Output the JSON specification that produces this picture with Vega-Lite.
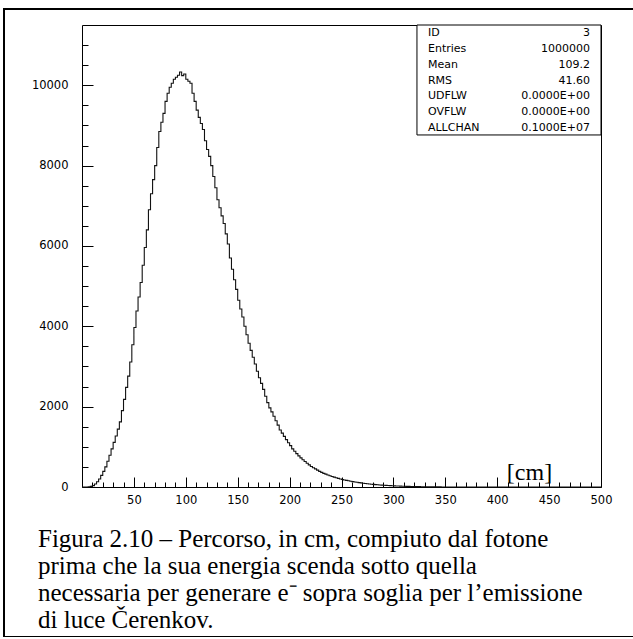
{
  "$schema": "https://vega.github.io/schema/vega-lite/v6.json",
  "width": 632,
  "height": 628,
  "autosize": {"type": "none"},
  "padding": {"left": 4, "top": 9, "right": 0, "bottom": 0},
  "background": "white",
  "config": {
    "view": {"stroke": "black", "strokeWidth": 2},
    "axis": {
      "labelFont": "DejaVu Sans",
      "labelFontSize": 11.5,
      "labelColor": "black",
      "domainColor": "black",
      "domainWidth": 1,
      "tickColor": "black",
      "tickWidth": 1,
      "grid": false,
      "title": null
    }
  },
  "title": {
    "text": [
      "Figura 2.10 – Percorso, in cm, compiuto dal fotone",
      "prima che la sua energia scenda sotto quella",
      "necessaria per generare e⁻ sopra soglia per l’emissione",
      "di luce Čerenkov."
    ],
    "orient": "bottom",
    "anchor": "start",
    "frame": "group",
    "offset": -110,
    "dx": 34,
    "font": "Liberation Serif",
    "fontSize": 25,
    "fontWeight": "normal",
    "lineHeight": 27,
    "baseline": "top",
    "color": "black"
  },
  "datasets": {
    "hist": [
      {"x": 0, "n": 0}, {"x": 2, "n": 0}, {"x": 4, "n": 0}, {"x": 6, "n": 5}, {"x": 8, "n": 15},
      {"x": 10, "n": 35}, {"x": 12, "n": 75}, {"x": 14, "n": 130}, {"x": 16, "n": 200}, {"x": 18, "n": 290},
      {"x": 20, "n": 390}, {"x": 22, "n": 500}, {"x": 24, "n": 640}, {"x": 26, "n": 790}, {"x": 28, "n": 950},
      {"x": 30, "n": 1110}, {"x": 32, "n": 1270}, {"x": 34, "n": 1440}, {"x": 36, "n": 1620}, {"x": 38, "n": 1900},
      {"x": 40, "n": 2180}, {"x": 42, "n": 2480}, {"x": 44, "n": 2760}, {"x": 46, "n": 3110}, {"x": 48, "n": 3540},
      {"x": 50, "n": 3970}, {"x": 52, "n": 4380}, {"x": 54, "n": 4730}, {"x": 56, "n": 5090}, {"x": 58, "n": 5520},
      {"x": 60, "n": 5960}, {"x": 62, "n": 6400}, {"x": 64, "n": 6900}, {"x": 66, "n": 7300}, {"x": 68, "n": 7650},
      {"x": 70, "n": 8000}, {"x": 72, "n": 8450}, {"x": 74, "n": 8850}, {"x": 76, "n": 9080}, {"x": 78, "n": 9300},
      {"x": 80, "n": 9600}, {"x": 82, "n": 9800}, {"x": 84, "n": 9950}, {"x": 86, "n": 10050}, {"x": 88, "n": 10150},
      {"x": 90, "n": 10200}, {"x": 92, "n": 10250}, {"x": 94, "n": 10330}, {"x": 96, "n": 10240}, {"x": 98, "n": 10280},
      {"x": 100, "n": 10150}, {"x": 102, "n": 10100}, {"x": 104, "n": 10050}, {"x": 106, "n": 9800}, {"x": 108, "n": 9600},
      {"x": 110, "n": 9380}, {"x": 112, "n": 9200}, {"x": 114, "n": 9050}, {"x": 116, "n": 8900}, {"x": 118, "n": 8620},
      {"x": 120, "n": 8400}, {"x": 122, "n": 8230}, {"x": 124, "n": 8000}, {"x": 126, "n": 7730}, {"x": 128, "n": 7450},
      {"x": 130, "n": 7150}, {"x": 132, "n": 6950}, {"x": 134, "n": 6750}, {"x": 136, "n": 6560}, {"x": 138, "n": 6300},
      {"x": 140, "n": 6050}, {"x": 142, "n": 5700}, {"x": 144, "n": 5420}, {"x": 146, "n": 5160}, {"x": 148, "n": 4920},
      {"x": 150, "n": 4650}, {"x": 152, "n": 4430}, {"x": 154, "n": 4230}, {"x": 156, "n": 4000}, {"x": 158, "n": 3790},
      {"x": 160, "n": 3580}, {"x": 162, "n": 3400}, {"x": 164, "n": 3230}, {"x": 166, "n": 3060}, {"x": 168, "n": 2880},
      {"x": 170, "n": 2720}, {"x": 172, "n": 2580}, {"x": 174, "n": 2430}, {"x": 176, "n": 2260}, {"x": 178, "n": 2100},
      {"x": 180, "n": 1970}, {"x": 182, "n": 1870}, {"x": 184, "n": 1760}, {"x": 186, "n": 1650}, {"x": 188, "n": 1540},
      {"x": 190, "n": 1420}, {"x": 192, "n": 1340}, {"x": 194, "n": 1260}, {"x": 196, "n": 1180}, {"x": 198, "n": 1100},
      {"x": 200, "n": 1030}, {"x": 202, "n": 950}, {"x": 204, "n": 890}, {"x": 206, "n": 830}, {"x": 208, "n": 775},
      {"x": 210, "n": 725}, {"x": 212, "n": 680}, {"x": 214, "n": 635}, {"x": 216, "n": 590}, {"x": 218, "n": 550},
      {"x": 220, "n": 510}, {"x": 222, "n": 480}, {"x": 224, "n": 450}, {"x": 226, "n": 420}, {"x": 228, "n": 390},
      {"x": 230, "n": 365}, {"x": 232, "n": 340}, {"x": 234, "n": 320}, {"x": 236, "n": 300}, {"x": 238, "n": 280},
      {"x": 240, "n": 262}, {"x": 242, "n": 245}, {"x": 244, "n": 230}, {"x": 246, "n": 215}, {"x": 248, "n": 200},
      {"x": 250, "n": 188}, {"x": 252, "n": 175}, {"x": 254, "n": 165}, {"x": 256, "n": 155}, {"x": 258, "n": 145},
      {"x": 260, "n": 135}, {"x": 262, "n": 126}, {"x": 264, "n": 118}, {"x": 266, "n": 110}, {"x": 268, "n": 102},
      {"x": 270, "n": 95}, {"x": 272, "n": 88}, {"x": 274, "n": 82}, {"x": 276, "n": 76}, {"x": 278, "n": 70},
      {"x": 280, "n": 65}, {"x": 282, "n": 60}, {"x": 284, "n": 55}, {"x": 286, "n": 51}, {"x": 288, "n": 47},
      {"x": 290, "n": 43}, {"x": 292, "n": 40}, {"x": 294, "n": 37}, {"x": 296, "n": 34}, {"x": 298, "n": 31},
      {"x": 300, "n": 28}, {"x": 302, "n": 26}, {"x": 304, "n": 24}, {"x": 306, "n": 22}, {"x": 308, "n": 20},
      {"x": 310, "n": 18}, {"x": 312, "n": 16}, {"x": 314, "n": 15}, {"x": 316, "n": 13}, {"x": 318, "n": 12},
      {"x": 320, "n": 11}, {"x": 322, "n": 10}, {"x": 324, "n": 9}, {"x": 326, "n": 8}, {"x": 328, "n": 7},
      {"x": 330, "n": 6}, {"x": 332, "n": 5}, {"x": 334, "n": 4}, {"x": 336, "n": 4}, {"x": 338, "n": 3},
      {"x": 340, "n": 3}, {"x": 342, "n": 2}, {"x": 344, "n": 2}, {"x": 346, "n": 1}, {"x": 348, "n": 1},
      {"x": 350, "n": 0}, {"x": 500, "n": 0}
    ],
    "stats": [
      {"stat": "ID", "value": "3"},
      {"stat": "Entries", "value": "1000000"},
      {"stat": "Mean", "value": "109.2"},
      {"stat": "RMS", "value": "41.60"},
      {"stat": "UDFLW", "value": "0.0000E+00"},
      {"stat": "OVFLW", "value": "0.0000E+00"},
      {"stat": "ALLCHAN", "value": "0.1000E+07"}
    ]
  },
  "layer": [
    {
      "data": {"name": "hist"},
      "layer": [
        {
          "mark": {"type": "line", "interpolate": "step-after", "color": "#111111", "strokeWidth": 1.1},
          "encoding": {
            "x": {
              "field": "x", "type": "quantitative",
              "scale": {"domain": [0, 500], "range": [78, 597], "nice": false, "zero": false},
              "axis": {
                "orient": "bottom", "offset": -150,
                "values": [50, 100, 150, 200, 250, 300, 350, 400, 450, 500],
                "tickSize": -10, "labelPadding": 17, "labelFlush": false, "labelOverlap": false,
                "title": "[cm]", "titleFont": "Liberation Serif", "titleFontSize": 24,
                "titleFontWeight": "normal", "titleColor": "black",
                "titleX": 525, "titleY": -8, "titleAlign": "center", "titleBaseline": "alphabetic"
              }
            },
            "y": {
              "field": "n", "type": "quantitative",
              "scale": {"domain": [0, 11500], "range": [478, 16], "nice": false, "zero": true},
              "axis": {
                "orient": "left", "offset": -78,
                "values": [0, 2000, 4000, 6000, 8000, 10000],
                "tickSize": -11, "labelPadding": 25, "labelFlush": false, "labelOverlap": false,
                "format": "d"
              }
            }
          }
        },
        {
          "mark": {"type": "line", "opacity": 0},
          "encoding": {
            "x": {
              "field": "x", "type": "quantitative",
              "scale": {"domain": [0, 500], "range": [78, 597], "nice": false, "zero": false},
              "axis": {
                "orient": "bottom", "offset": -150,
                "values": [10, 20, 30, 40, 60, 70, 80, 90, 110, 120, 130, 140, 160, 170, 180, 190, 210, 220, 230, 240, 260, 270, 280, 290, 310, 320, 330, 340, 360, 370, 380, 390, 410, 420, 430, 440, 460, 470, 480, 490],
                "tickSize": -5, "labels": false, "domain": false
              }
            },
            "y": {
              "field": "n", "type": "quantitative",
              "scale": {"domain": [0, 11500], "range": [478, 16], "nice": false, "zero": true},
              "axis": {
                "orient": "left", "offset": -78,
                "values": [500, 1000, 1500, 2500, 3000, 3500, 4500, 5000, 5500, 6500, 7000, 7500, 8500, 9000, 9500, 10500, 11000],
                "tickSize": -6, "labels": false, "domain": false
              }
            }
          }
        },
        {
          "mark": {"type": "line", "opacity": 0},
          "encoding": {
            "x": {
              "field": "x", "type": "quantitative",
              "scale": {"domain": [0, 500], "range": [78, 597], "nice": false, "zero": false},
              "axis": {"orient": "top", "offset": -16, "ticks": false, "labels": false, "domain": true}
            },
            "y": {
              "field": "n", "type": "quantitative",
              "scale": {"domain": [0, 11500], "range": [478, 16], "nice": false, "zero": true},
              "axis": {"orient": "right", "offset": -35, "ticks": false, "labels": false, "domain": true}
            }
          }
        },
        {
          "data": {"values": [{}]},
          "mark": {"type": "rect", "fill": "white", "stroke": "black", "strokeWidth": 1},
          "encoding": {
            "x": {"datum": 322.7, "type": "quantitative", "axis": null},
            "x2": {"datum": 500},
            "y": {"datum": 11500, "type": "quantitative", "axis": null},
            "y2": {"datum": 8763}
          }
        }
      ],
      "resolve": {"axis": {"x": "independent", "y": "independent"}}
    },
    {
      "data": {"name": "stats"},
      "mark": {"type": "text", "align": "left", "baseline": "middle", "font": "DejaVu Sans", "fontSize": 11, "color": "black"},
      "encoding": {
        "x": {"datum": 333.3, "type": "quantitative", "axis": null},
        "y": {"field": "stat", "type": "ordinal", "sort": null, "scale": {"type": "point", "range": [24, 119], "padding": 0}, "axis": null},
        "text": {"field": "stat"}
      }
    },
    {
      "data": {"name": "stats"},
      "mark": {"type": "text", "align": "right", "baseline": "middle", "font": "DejaVu Sans", "fontSize": 11, "color": "black"},
      "encoding": {
        "x": {"datum": 489.4, "type": "quantitative", "axis": null},
        "y": {"field": "stat", "type": "ordinal", "sort": null, "scale": {"type": "point", "range": [24, 119], "padding": 0}, "axis": null},
        "text": {"field": "value"}
      }
    }
  ],
  "resolve": {"scale": {"y": "independent"}, "axis": {"x": "independent", "y": "independent"}}
}
